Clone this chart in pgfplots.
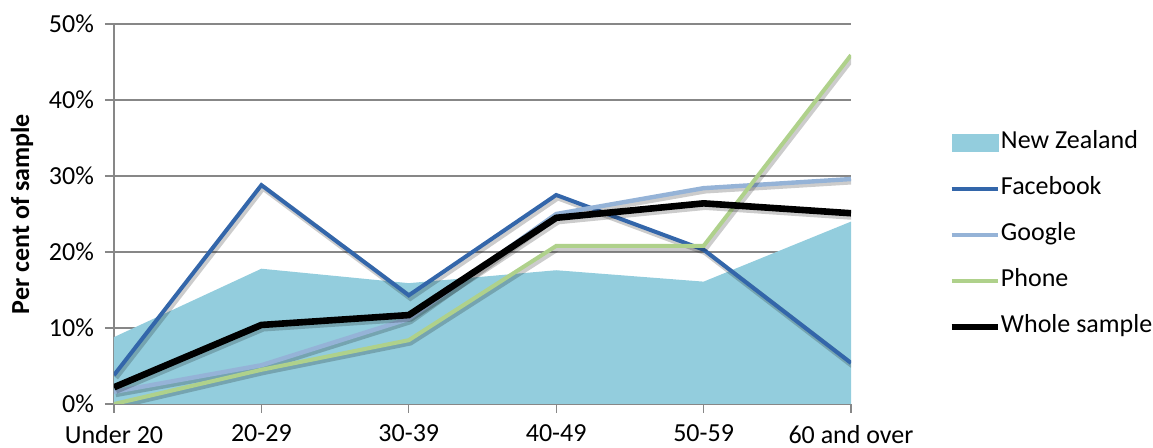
\documentclass[border=0pt]{standalone}
\usepackage{fontspec}
\setmainfont{Carlito}
\usepackage{pgfplots}
\usepackage{pgfplotstable}
\pgfplotsset{compat=1.18}
\definecolor{nzfill}{HTML}{93CDDD}
\definecolor{fbblue}{HTML}{3366AA}
\definecolor{gooblue}{HTML}{95B3D7}
\definecolor{phgreen}{HTML}{AFD18B}
\definecolor{gridgray}{HTML}{878787}

\pgfplotstableread{
x nz   fb   go   ph   ws
0 8.8  3.8  1.6  0.0  2.2
1 17.8 28.8 5.1  4.5  10.4
2 15.9 14.3 11.2 8.4  11.7
3 17.6 27.5 25.0 20.8 24.5
4 16.1 20.3 28.4 20.8 26.4
5 24.0 5.4  29.6 45.9 25.1
}\data

\begin{document}
\begin{tikzpicture}
\path[use as bounding box] (-57pt,-22pt) rectangle (519.5pt,202pt);
\begin{axis}[
  scale only axis, width=368.5pt, height=190pt,
  xmin=0, xmax=5, ymin=0, ymax=50,
  xtick={0,...,5},
  xticklabels={Under 20,20-29,30-39,40-49,50-59,60 and over},
  ytick={0,10,...,50},
  yticklabels={0\%,10\%,20\%,30\%,40\%,50\%},
  axis x line*=bottom, axis y line*=left,
  axis line style={gridgray, line width=0.6pt, -},
  tick align=outside, major tick length=4.5pt,
  tick style={gridgray, line width=0.6pt},
  ymajorgrids, grid style={gridgray, line width=0.6pt},
  font=\fontsize{13}{15}\selectfont,
  x tick label style={yshift=-2.5pt},
  y tick label style={xshift=-2pt},
  ylabel={\fontsize{13}{15}\selectfont\bfseries Per cent of sample},
  y label style={at={(axis description cs:-0.1248,0.5)}, anchor=center, rotate=0},
  legend style={at={(rel axis cs:1.1316,0.445)}, anchor=west, draw=none, fill=none,
    row sep=12pt, inner sep=0pt,
    nodes={text height=8.5pt, text depth=2.5pt, inner xsep=0pt, inner ysep=0pt}},
  legend cell align=left,
  legend image code/.code={\draw[#1] (0pt,0pt) -- (23pt,0pt);},
]
\addplot[fill=nzfill, draw=none,
  legend image code/.code={\fill[nzfill] (0pt,-4.5pt) rectangle (23.5pt,4.5pt);}]
  table[x=x, y=nz] {\data} \closedcycle;
\addlegendentry{New Zealand}

\addplot[forget plot, black, opacity=0.2, line width=3pt, xshift=0.8pt, yshift=-1.2pt] table[x=x, y=fb] {\data};
\addplot[fbblue, line width=2pt] table[x=x, y=fb] {\data};
\addlegendentry{Facebook}

\addplot[forget plot, black, opacity=0.2, line width=3pt, xshift=0.8pt, yshift=-1.2pt] table[x=x, y=go] {\data};
\addplot[gooblue, line width=2.2pt] table[x=x, y=go] {\data};
\addlegendentry{Google}

\addplot[forget plot, black, opacity=0.2, line width=3pt, xshift=0.8pt, yshift=-1.2pt] table[x=x, y=ph] {\data};
\addplot[phgreen, line width=2pt] table[x=x, y=ph] {\data};
\addlegendentry{Phone}

\addplot[forget plot, black, opacity=0.2, line width=4.2pt, xshift=0.8pt, yshift=-1.2pt] table[x=x, y=ws] {\data};
\addplot[black, line width=3.3pt] table[x=x, y=ws] {\data};
\addlegendentry{Whole sample}
\end{axis}
\end{tikzpicture}
\end{document}
